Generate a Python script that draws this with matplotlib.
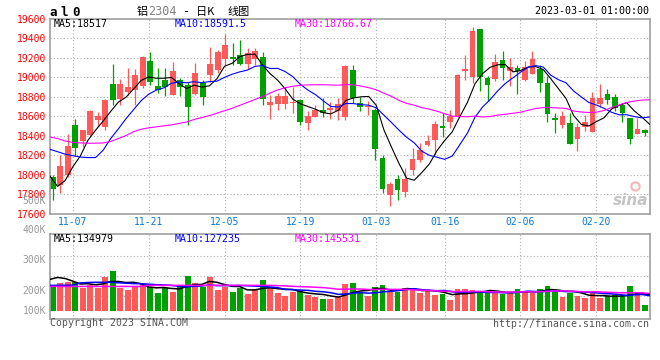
import numpy as np
import matplotlib
matplotlib.use("Agg")
import matplotlib.pyplot as plt

plt.rcParams['font.family'] = ['DejaVu Sans Mono', 'Noto Sans CJK SC']

# al2304 daily bars 2022-11-02 .. 2023-03-01
opens = [17981, 17896, 17998, 18508, 18340, 18402, 18562, 18484, 18928, 18778,
         18850, 18870, 18911, 19167, 18908, 18969, 18819, 18969, 18921, 18826,
         18938, 19024, 19075, 19188, 19205, 19222, 19137, 19188, 19205, 18716,
         18723, 18723, 18730, 18764, 18528, 18593, 18661, 18658, 18655, 18593,
         19075, 18733, 18689, 18658, 18169, 17793, 17954, 17827, 18050, 18152,
         18306, 18357, 18494, 18538, 18597, 19065, 19000, 19492, 18990, 18983,
         19171, 19065, 19092, 18966, 19031, 19085, 18938, 18579, 18504, 18528,
         18367, 18487, 18436, 18723, 18826, 18795, 18709, 18579, 18415, 18460]
closes = [17851, 18091, 18292, 18275, 18453, 18651, 18603, 18764, 18767, 18928,
          18897, 19024, 19209, 18945, 18867, 18894, 19065, 18894, 18689, 19041,
          18795, 19133, 19256, 19332, 19188, 19137, 19246, 19270, 18778, 18744,
          18802, 18802, 18744, 18538, 18603, 18661, 18631, 18682, 18723, 19109,
          18785, 18689, 18699, 18265, 17855, 17902, 17844, 17954, 18159, 18251,
          18347, 18518, 18477, 18597, 19024, 19082, 19475, 18997, 18921, 19154,
          19092, 19103, 19058, 19103, 19185, 18938, 18624, 18556, 18597, 18316,
          18487, 18535, 18785, 18785, 18767, 18682, 18631, 18367, 18467, 18429]
highs = [17998, 18203, 18415, 18569, 18453, 18661, 18641, 18774, 19133, 18979,
         19092, 19085, 19219, 19260, 19092, 19092, 19150, 18990, 18949, 19144,
         18973, 19304, 19280, 19441, 19349, 19383, 19297, 19297, 19256, 18812,
         18836, 18894, 18894, 18771, 18648, 18709, 18785, 18744, 18785, 19126,
         19126, 18791, 18750, 18682, 18203, 17923, 17998, 18073, 18272, 18320,
         18402, 18545, 18631, 18665, 19031, 19222, 19509, 19492, 19007, 19236,
         19263, 19195, 19126, 19161, 19263, 19126, 19007, 18631, 18648, 18631,
         18528, 18614, 18846, 18928, 18880, 18826, 18733, 18579, 18579, 18470]
lows = [17742, 17810, 17981, 18193, 18279, 18395, 18494, 18460, 18716, 18716,
        18812, 18716, 18887, 18921, 18836, 18802, 18812, 18802, 18511, 18812,
        18709, 18949, 19041, 19126, 19126, 19120, 19082, 19126, 18709, 18573,
        18665, 18675, 18631, 18504, 18460, 18586, 18586, 18573, 18562, 18562,
        18733, 18655, 18614, 18152, 17810, 17680, 17742, 17776, 17998, 18128,
        18289, 18197, 18385, 18477, 18590, 18973, 18938, 18860, 18750, 18962,
        18973, 18904, 18826, 18956, 19031, 18846, 18538, 18426, 18477, 18316,
        18244, 18443, 18436, 18689, 18723, 18655, 18538, 18313, 18415, 18391]
ma5 = [17985, 17880, 17940, 18080, 18192, 18352, 18455, 18549, 18648, 18743,
       18792, 18876, 18965, 19001, 18988, 18988, 18996, 18933, 18882, 18917,
       18897, 18910, 18983, 19111, 19141, 19209, 19232, 19235, 19124, 19035,
       18968, 18879, 18774, 18726, 18698, 18670, 18635, 18623, 18660, 18761,
       18786, 18798, 18801, 18709, 18459, 18282, 18113, 17964, 17943, 18022,
       18111, 18246, 18350, 18438, 18593, 18740, 18931, 19035, 19100, 19126,
       19128, 19053, 19066, 19102, 19108, 19077, 18982, 18881, 18780, 18606,
       18516, 18498, 18544, 18582, 18672, 18711, 18737, 18653, 18590, 18517]
ma10 = [18260, 18235, 18210, 18195, 18180, 18175, 18175, 18250, 18370, 18468,
        18572, 18665, 18757, 18824, 18866, 18890, 18936, 18949, 18941, 18953,
        18942, 18953, 18958, 18997, 19029, 19053, 19071, 19109, 19118, 19088,
        19089, 19056, 19004, 18925, 18866, 18819, 18757, 18699, 18693, 18730,
        18728, 18717, 18712, 18685, 18610, 18534, 18455, 18383, 18326, 18240,
        18197, 18179, 18157, 18190, 18307, 18425, 18588, 18693, 18769, 18859,
        18934, 18992, 19050, 19101, 19117, 19103, 19018, 18973, 18941, 18857,
        18797, 18740, 18713, 18681, 18639, 18613, 18614, 18595, 18582, 18591]
ma30 = [18385, 18370, 18345, 18330, 18325, 18322, 18322, 18325, 18340, 18370,
        18400, 18440, 18465, 18480, 18490, 18500, 18510, 18525, 18540, 18565,
        18585, 18605, 18630, 18655, 18680, 18710, 18740, 18770, 18800, 18836,
        18868, 18891, 18906, 18915, 18920, 18921, 18921, 18919, 18917, 18923,
        18920, 18908, 18891, 18869, 18835, 18802, 18761, 18730, 18712, 18686,
        18671, 18650, 18625, 18600, 18595, 18593, 18600, 18591, 18596, 18610,
        18619, 18629, 18640, 18659, 18678, 18687, 18687, 18683, 18679, 18652,
        18642, 18637, 18640, 18657, 18688, 18714, 18740, 18754, 18764, 18767]

# volume in thousand lots
volume = [211, 237, 245, 242, 194, 220, 194, 287, 338, 194,
          177, 203, 228, 203, 152, 194, 161, 211, 296, 237,
          203, 287, 177, 203, 161, 194, 144, 177, 262, 194,
          152, 127, 161, 169, 135, 118, 101, 101, 118, 226,
          234, 155, 127, 200, 217, 161, 161, 194, 183, 152,
          166, 133, 138, 90, 183, 183, 172, 166, 152, 152,
          138, 158, 183, 166, 152, 183, 209, 161, 116, 146,
          124, 107, 146, 110, 121, 129, 129, 209, 150, 48]
vol_ma5 = [265, 281, 272, 250, 226, 228, 219, 227, 247, 247,
           238, 240, 228, 201, 193, 196, 188, 184, 203, 220,
           222, 247, 240, 221, 206, 204, 176, 176, 188, 194,
           186, 182, 179, 161, 149, 142, 137, 125, 115, 133,
           156, 167, 172, 188, 187, 172, 173, 187, 183, 170,
           171, 166, 154, 136, 142, 145, 153, 159, 171, 165,
           156, 153, 157, 159, 159, 168, 179, 174, 164, 163,
           151, 131, 128, 127, 122, 123, 127, 140, 148, 135]
vol_ma10 = [214, 214, 215, 216, 235, 238, 240, 240, 240, 236,
            233, 229, 228, 224, 220, 217, 214, 206, 202, 206,
            209, 217, 212, 212, 213, 213, 211, 208, 205, 200,
            195, 179, 178, 174, 172, 164, 160, 152, 138, 141,
            149, 152, 148, 152, 160, 164, 170, 179, 186, 178,
            172, 169, 171, 160, 156, 158, 159, 157, 154, 154,
            151, 153, 158, 165, 162, 162, 166, 165, 162, 161,
            160, 155, 151, 145, 142, 137, 129, 134, 137, 127]
vol_ma30 = [205, 205, 205, 205, 205, 205, 205, 205, 205, 205,
            205, 205, 205, 214, 214, 214, 214, 214, 214, 214,
            214, 214, 214, 214, 214, 214, 214, 214, 214, 214,
            212, 209, 206, 203, 201, 198, 195, 189, 181, 182,
            184, 183, 179, 179, 181, 180, 180, 180, 176, 173,
            172, 167, 165, 162, 162, 162, 163, 163, 159, 158,
            157, 158, 159, 159, 159, 162, 165, 167, 167, 164,
            161, 159, 160, 157, 154, 152, 151, 152, 151, 146]

tick_idx = [3, 13, 23, 33, 43, 52, 62, 72]
tick_labels = ["11-07", "11-21", "12-05", "12-19", "01-03", "01-16", "02-06", "02-20"]
price_ticks = [17600, 17800, 18000, 18200, 18400, 18600, 18800, 19000, 19200, 19400, 19600]
ma_text = ["MA5:18517", "MA10:18591.5", "MA30:18766.67"]
vol_ma_text = ["MA5:134979", "MA10:127235", "MA30:145531"]
vol_labels = ["400K", "300K", "200K", "100K"]

RED = "#FF5A5A"
GREEN = "#00A000"
GRID = "#B0B0B0"
FRAME = "#A0A0A0"
MA_COLORS = ["black", "#0000FF", "#FF00FF"]

W, H = 660, 360
fig = plt.figure(figsize=(W / 100, H / 100), dpi=100)


def box(l, t, r, b):
    return fig.add_axes([l / W, 1 - b / H, (r - l) / W, (b - t) / H])


def ftext(x, y, s, **kw):
    kw.setdefault("va", "center")
    fig.text(x / W, 1 - y / H, s, **kw)


n = len(closes)
x = np.arange(n)
line_x = x * n / (n - 1)      # sina spreads lines and grid over the whole width
grid_x = [d * n / (n - 1) for d in tick_idx]
cols = [RED if c >= o else GREEN for o, c in zip(opens, closes)]
dots = (0, (1, 2))

ax = box(50, 18.5, 649.5, 213.7)
axv = box(50, 233.5, 649.5, 318.5)

for a in (ax, axv):
    a.set_xlim(0, n)
    for s in a.spines.values():
        s.set_color(FRAME)
        s.set_linewidth(1.2)
    a.tick_params(length=0)
    for gx in grid_x:
        a.axvline(gx, color=GRID, lw=0.8, ls=dots, zorder=0)

#------------------------------------------------------------------------------
# price panel
ax.set_ylim(17600, 19600)
ax.set_yticks(price_ticks)
ax.tick_params(axis="y", labelcolor="red", labelsize=7, pad=3)
ax.set_xticks(grid_x, tick_labels)
ax.tick_params(axis="x", labelcolor="#0A78D2", labelsize=7, pad=2.5)
for yv in price_ticks[1:-1]:
    ax.axhline(yv, color=GRID, lw=0.8, ls=dots, zorder=0)

bodies = [max(abs(c - o), 8) for o, c in zip(opens, closes)]
bottoms = [min(o, c) for o, c in zip(opens, closes)]
ax.vlines(x + 0.385, lows, highs, colors=cols, lw=0.9, zorder=2)
ax.bar(x, bodies, bottom=bottoms, width=0.77, align="edge", color=cols, lw=0, zorder=2)
for ser, col in zip([ma5, ma10, ma30], MA_COLORS):
    ax.plot(line_x, ser, color=col, lw=0.8, zorder=3)

# sina watermark
ax.text(0.998, 0.07, "sina", transform=ax.transAxes, ha="right", va="center",
        fontsize=11, fontstyle="italic", fontweight="bold", color="#C4C4C4",
        family="DejaVu Sans", zorder=1)
ax.plot([0.975], [0.14], transform=ax.transAxes, marker="o", ms=6, mfc="none",
        mec="#F4B8B8", mew=1.5, zorder=1)

#------------------------------------------------------------------------------
# volume panel
axv.set_ylim(-65.9, 652.3)
axv.set_xticks([])
axv.set_yticks([])
for f in (0.739, 0.5035, 0.268):
    axv.axhline(-65.9 + f * (652.3 + 65.9), color=GRID, lw=0.8, ls=dots, zorder=0)
axv.bar(x, volume, width=0.77, align="edge", color=cols, lw=0, zorder=2)
for ser, col in zip([vol_ma5, vol_ma10, vol_ma30], MA_COLORS):
    axv.plot(line_x, ser, color=col, lw=1.1, zorder=3)

#------------------------------------------------------------------------------
# texts
for xx, s, col in zip([54, 175, 295], ma_text, MA_COLORS):
    ftext(xx, 24, s, color=col, size=7.1)
for xx, s, col in zip([54, 175, 295], vol_ma_text, MA_COLORS):
    ftext(xx, 238.5, s, color=col, size=7.1)
for yy, s in zip([230.5, 260, 290.8, 311], vol_labels):
    ftext(46, yy, s, ha="right", color="#999999", size=7)
ftext(46, 201, "500K", ha="right", color="#999999", size=7)

for xx, s in zip([52.7, 64, 75.8], ["a", "l", "0"]):
    ftext(xx, 12, s, ha="center", size=9, weight="bold")
ftext(136.5, 11.5, "铝", family="Noto Sans CJK SC", size=8)
ftext(148, 11.5, "2304", color="#808080", size=8.5)
ftext(183, 11.5, "-", size=8.5)
ftext(196, 11.5, "日K", family="Noto Sans CJK SC", size=8)
ftext(227.5, 11.5, "线图", family="Noto Sans CJK SC", size=8)
ftext(649, 11.3, "2023-03-01 01:00:00", ha="right", size=7.2)

ftext(50, 323.5, "Copyright 2023 SINA.COM", color="#555555", size=7.1)
ftext(649, 324, "http://finance.sina.com.cn", ha="right", color="#555555", size=7.1)

fig.savefig("out.png", dpi=100, facecolor="white")
